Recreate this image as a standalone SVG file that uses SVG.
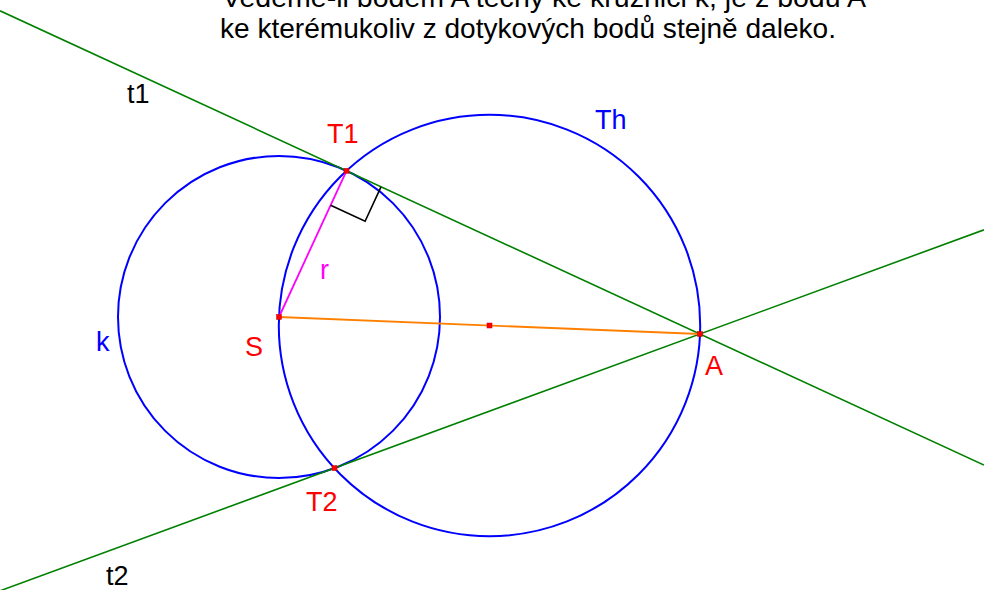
<svg xmlns="http://www.w3.org/2000/svg" width="984" height="590" viewBox="0 0 984 590">
<style>
text{font-family:"Liberation Sans",Arial,sans-serif;font-size:27px}
.title{font-size:28px;fill:#000}
.circ{fill:none;stroke:#0000ff;stroke-width:2}
.tan{stroke:#008000;stroke-width:1.6;fill:none}
.pt{fill:#ff0000;stroke:#c00000;stroke-width:0.5}
.red{fill:#ff0000}
.blue{fill:#0000ff}
.blk{fill:#000}
</style>
<rect width="984" height="590" fill="#fff"/>
<g id="title">
<text class="title" x="222" y="7" textLength="644" lengthAdjust="spacingAndGlyphs">Vedeme-li bodem A tečny ke kružnici k, je z bodu A</text>
<text class="title" x="220" y="38" textLength="616" lengthAdjust="spacingAndGlyphs">ke kterémukoliv z dotykových bodů stejně daleko.</text>
</g>
<g id="circle-k"><circle class="circ" cx="279" cy="317" r="161"/><text class="blue" x="96" y="351">k</text></g>
<g id="circle-Th"><circle class="circ" cx="489.5" cy="325.5" r="210.7"/><text class="blue" x="595" y="129">Th</text></g>
<g id="connectors">
<line id="t1" class="tan" x1="0" y1="10.8" x2="984" y2="465.1"/>
<line id="t2" class="tan" x1="0" y1="590.8" x2="984" y2="229.8"/>
<line id="SA" x1="279" y1="317" x2="700" y2="334" stroke="#ff8000" stroke-width="1.8"/>
<line id="r" x1="279" y1="317" x2="346.5" y2="170.8" stroke="#ff00ff" stroke-width="1.8"/>
<polyline id="right-angle" points="330.6,205.3 365.1,221.3 381,186.8" fill="none" stroke="#000" stroke-width="1.6"/>
</g>
<g id="label-t1"><text class="blk" x="127" y="103">t1</text></g>
<g id="label-t2"><text class="blk" x="106" y="585">t2</text></g>
<g id="label-r"><text x="320" y="279" fill="#ff00ff">r</text></g>
<g id="point-S"><rect class="pt" x="276.5" y="314.5" width="5" height="5"/><text class="red" x="245" y="356">S</text></g>
<g id="point-T1"><rect class="pt" x="344" y="168.3" width="5" height="5"/><text class="red" x="327" y="143">T1</text></g>
<g id="point-T2"><rect class="pt" x="332" y="465.6" width="5" height="5"/><text class="red" x="306" y="511">T2</text></g>
<g id="point-A"><rect class="pt" x="697.5" y="331.5" width="5" height="5"/><text class="red" x="705" y="375">A</text></g>
<g id="point-M"><rect class="pt" x="487" y="323" width="5" height="5"/></g>
</svg>
